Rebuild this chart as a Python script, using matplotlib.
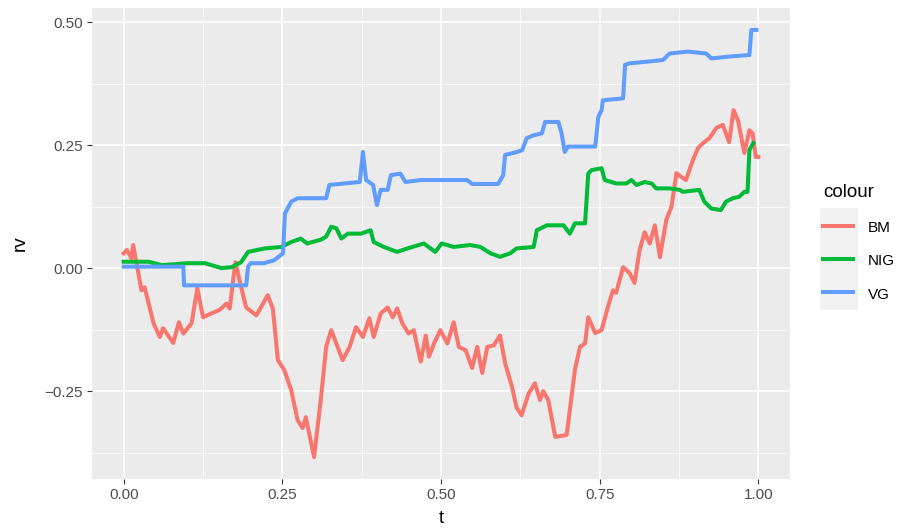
import matplotlib
matplotlib.use('Agg')
import matplotlib.pyplot as plt
from matplotlib.lines import Line2D
from matplotlib.patches import Rectangle

plt.rcParams['font.family'] = ['Liberation Sans', 'DejaVu Sans']

# --- datos ---
bm_t = [0.000, 0.005, 0.012, 0.015, 0.028, 0.033, 0.047, 0.057, 0.062, 0.078,
        0.087, 0.094, 0.107, 0.116, 0.125, 0.138, 0.151, 0.162, 0.167, 0.176,
        0.185, 0.193, 0.209, 0.227, 0.235, 0.243, 0.253, 0.264, 0.274, 0.282,
        0.287, 0.300, 0.311, 0.319, 0.327, 0.335, 0.345, 0.356, 0.366, 0.377,
        0.387, 0.394, 0.405, 0.416, 0.424, 0.431, 0.439, 0.449, 0.457, 0.468,
        0.476, 0.481, 0.489, 0.499, 0.510, 0.520, 0.528, 0.539, 0.549, 0.557,
        0.565, 0.573, 0.583, 0.593, 0.601, 0.612, 0.619, 0.627, 0.638, 0.648,
        0.656, 0.661, 0.669, 0.680, 0.698, 0.711, 0.719, 0.727, 0.732, 0.743,
        0.753, 0.763, 0.771, 0.776, 0.787, 0.797, 0.805, 0.813, 0.821, 0.829,
        0.837, 0.845, 0.855, 0.863, 0.871, 0.879, 0.886, 0.897, 0.905, 0.913,
        0.923, 0.934, 0.944, 0.954, 0.961, 0.968, 0.973, 0.978, 0.986, 0.991,
        0.996, 1.000]
bm_v = [0.030, 0.037, 0.020, 0.047, -0.045, -0.039, -0.112, -0.140, -0.122, -0.152,
        -0.110, -0.133, -0.112, -0.041, -0.100, -0.092, -0.085, -0.072, -0.082, 0.012,
        -0.038, -0.080, -0.096, -0.055, -0.082, -0.187, -0.207, -0.248, -0.309, -0.325,
        -0.303, -0.384, -0.262, -0.160, -0.126, -0.153, -0.187, -0.160, -0.120, -0.140,
        -0.102, -0.140, -0.092, -0.080, -0.100, -0.082, -0.112, -0.133, -0.126, -0.190,
        -0.137, -0.180, -0.153, -0.126, -0.153, -0.110, -0.160, -0.167, -0.203, -0.160,
        -0.213, -0.160, -0.157, -0.137, -0.193, -0.242, -0.283, -0.299, -0.255, -0.234,
        -0.268, -0.250, -0.268, -0.343, -0.339, -0.207, -0.160, -0.153, -0.100, -0.132,
        -0.126, -0.079, -0.045, -0.050, 0.002, -0.010, -0.030, 0.037, 0.073, 0.050,
        0.087, 0.022, 0.098, 0.124, 0.193, 0.185, 0.179, 0.220, 0.244, 0.254,
        0.264, 0.285, 0.291, 0.256, 0.321, 0.300, 0.267, 0.234, 0.280, 0.274,
        0.226, 0.226]

nig_t = [0.000, 0.039, 0.060, 0.100, 0.128, 0.154, 0.170, 0.185, 0.196, 0.222,
         0.248, 0.264, 0.279, 0.289, 0.311, 0.319, 0.327, 0.335, 0.343, 0.353,
         0.374, 0.389, 0.394, 0.410, 0.431, 0.447, 0.473, 0.491, 0.501, 0.520,
         0.546, 0.562, 0.578, 0.593, 0.609, 0.619, 0.646, 0.651, 0.667, 0.682,
         0.693, 0.703, 0.711, 0.727, 0.732, 0.737, 0.753, 0.758, 0.776, 0.792,
         0.800, 0.808, 0.821, 0.832, 0.839, 0.860, 0.876, 0.881, 0.907, 0.915,
         0.926, 0.941, 0.949, 0.960, 0.970, 0.978, 0.983, 0.986, 0.992]
nig_v = [0.013, 0.013, 0.006, 0.010, 0.010, 0.000, 0.002, 0.012, 0.033, 0.040,
         0.043, 0.053, 0.060, 0.050, 0.058, 0.064, 0.084, 0.081, 0.060, 0.070,
         0.070, 0.077, 0.053, 0.043, 0.033, 0.040, 0.050, 0.033, 0.050, 0.043,
         0.047, 0.043, 0.030, 0.023, 0.030, 0.040, 0.043, 0.077, 0.087, 0.087,
         0.087, 0.070, 0.091, 0.091, 0.192, 0.199, 0.203, 0.179, 0.172, 0.172,
         0.179, 0.169, 0.175, 0.172, 0.162, 0.162, 0.159, 0.155, 0.159, 0.135,
         0.121, 0.118, 0.135, 0.142, 0.145, 0.155, 0.155, 0.240, 0.254]

vg_t = [0.000, 0.094, 0.095, 0.193, 0.196, 0.200, 0.221, 0.237, 0.251, 0.254,
        0.264, 0.274, 0.319, 0.324, 0.348, 0.372, 0.377, 0.382, 0.393, 0.399,
        0.405, 0.416, 0.421, 0.436, 0.444, 0.468, 0.541, 0.549, 0.590, 0.598,
        0.601, 0.620, 0.628, 0.635, 0.646, 0.659, 0.664, 0.685, 0.690, 0.695,
        0.700, 0.743, 0.748, 0.753, 0.755, 0.787, 0.790, 0.797, 0.829, 0.850,
        0.860, 0.889, 0.918, 0.926, 0.955, 0.986, 0.989, 0.997]
vg_v = [0.003, 0.003, -0.035, -0.035, 0.003, 0.010, 0.010, 0.016, 0.030, 0.111,
        0.135, 0.142, 0.142, 0.169, 0.172, 0.175, 0.236, 0.179, 0.169, 0.128,
        0.159, 0.159, 0.189, 0.192, 0.175, 0.179, 0.179, 0.171, 0.171, 0.189,
        0.230, 0.236, 0.240, 0.264, 0.270, 0.274, 0.297, 0.297, 0.274, 0.236,
        0.247, 0.247, 0.308, 0.321, 0.341, 0.345, 0.413, 0.416, 0.420, 0.423,
        0.436, 0.440, 0.436, 0.426, 0.430, 0.433, 0.484, 0.484]

series = ['BM', 'NIG', 'VG']
colores = ['#F8766D', '#00BA38', '#619CFF']

x_ticks = [0.0, 0.25, 0.5, 0.75, 1.0]
y_ticks = [-0.25, 0.0, 0.25, 0.5]

fig = plt.figure(figsize=(8.99, 5.28), dpi=100)
ax = fig.add_axes([0.1023, 0.0928, 0.7765, 0.892])

ax.set_facecolor('#EBEBEB')
for s in ax.spines.values():
    s.set_visible(False)

#grilla estilo ggplot
for v in [0.125, 0.375, 0.625, 0.875]:
    ax.axvline(v, color='white', lw=0.5, zorder=0)
for v in [-0.375, -0.125, 0.125, 0.375]:
    ax.axhline(v, color='white', lw=0.5, zorder=0)
for v in x_ticks:
    ax.axvline(v, color='white', lw=1.1, zorder=0)
for v in y_ticks:
    ax.axhline(v, color='white', lw=1.1, zorder=0)

ax.plot(bm_t, bm_v, color=colores[0], lw=2.9, solid_joinstyle='round')
ax.plot(nig_t, nig_v, color=colores[1], lw=2.9, solid_joinstyle='round')
ax.plot(vg_t, vg_v, color=colores[2], lw=2.9, solid_joinstyle='round')

ax.set_xlim(-0.05, 1.05)
ax.set_ylim(-0.4285, 0.5285)
ax.set_xticks(x_ticks)
ax.set_xticklabels(['0.00', '0.25', '0.50', '0.75', '1.00'])
ax.set_yticks(y_ticks)
ax.set_yticklabels(['\u22120.25', '0.00', '0.25', '0.50'])
ax.tick_params(colors='#333333', labelcolor='#4D4D4D', labelsize=11, length=3.5, width=0.8, pad=3)

ax.set_xlabel('t', fontsize=13.5)
ax.set_ylabel('rv', fontsize=13.5)
ax.xaxis.label.set_va('center')
ax.yaxis.label.set_va('center')
ax.xaxis.set_label_coords(0.5, -0.083)
ax.yaxis.set_label_coords(-0.103, 0.5)

#fondo gris de las claves de la leyenda
fig.patches.append(Rectangle((820 / 899, 1 - 310 / 528), 38 / 899, 102 / 528,
                             transform=fig.transFigure, facecolor='#F2F2F2',
                             edgecolor='none', zorder=0))

handles = [Line2D([0], [0], color=c, lw=2.9) for c in colores]
leg = fig.legend(handles, series, title='colour', loc='upper left',
                 bbox_to_anchor=(0.9088, 0.6625), borderaxespad=0, frameon=False,
                 fontsize=11, title_fontsize=13.5, handlelength=1.96, handleheight=1.0,
                 labelspacing=1.2, handletextpad=0.98)
leg._legend_box.align = 'left'

fig.savefig('out.png', dpi=100)
